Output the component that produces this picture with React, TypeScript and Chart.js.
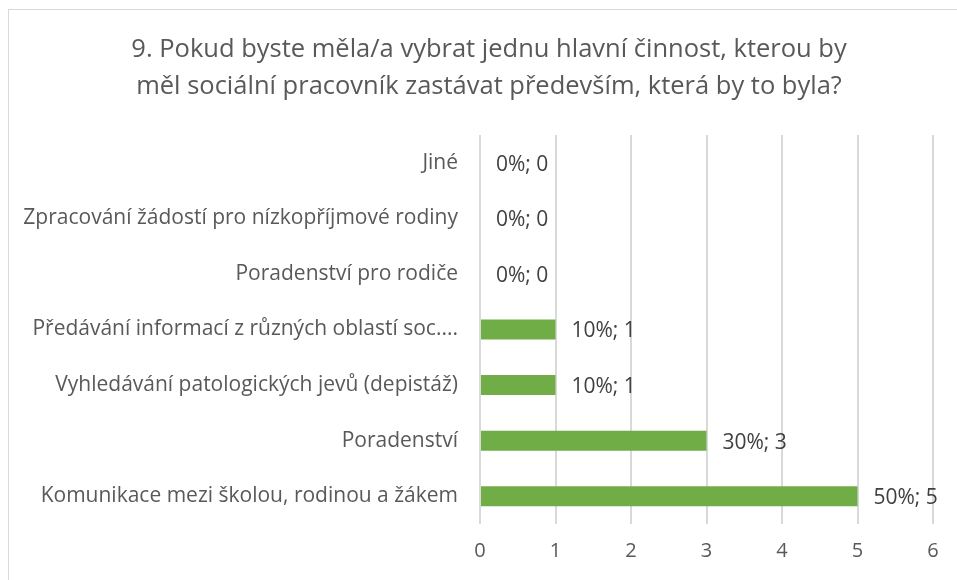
import React, { useEffect, useRef } from "react";
import { Chart, registerables } from "chart.js";

Chart.register(...registerables);

const titleLines = [
  "9. Pokud byste měla/a vybrat jednu hlavní činnost, kterou by",
  "měl sociální pracovník zastávat především, která by to byla?",
];
const categories = [
  "Jiné",
  "Zpracování žádostí pro nízkopříjmové rodiny",
  "Poradenství pro rodiče",
  "Předávání informací z různých oblastí soc....",
  "Vyhledávání patologických jevů (depistáž)",
  "Poradenství",
  "Komunikace mezi školou, rodinou a žákem",
];
const values = [0, 0, 0, 1, 1, 3, 5];
const percents = ["0%", "0%", "0%", "10%", "10%", "30%", "50%"];
const xTicks = [0, 1, 2, 3, 4, 5, 6];

const FONT = "'Open Sans', sans-serif";

const titlePlugin = {
  id: "customTitle",
  afterDraw(chart: any) {
    const ctx = chart.ctx;
    ctx.save();
    ctx.font = `25.5px ${FONT}`;
    ctx.fillStyle = "#595959";
    ctx.textAlign = "center";
    ctx.textBaseline = "middle";
    titleLines.forEach((line, i) => {
      ctx.fillText(line, 489, 50 + i * 37);
    });
    ctx.restore();
  },
};

const labelPlugin = {
  id: "barLabels",
  afterDatasetsDraw(chart: any) {
    const ctx = chart.ctx;
    const meta = chart.getDatasetMeta(0);
    ctx.save();
    ctx.font = `21px ${FONT}`;
    ctx.fillStyle = "#404040";
    ctx.textAlign = "left";
    ctx.textBaseline = "middle";
    meta.data.forEach((bar: any, i: number) => {
      ctx.fillText(`${percents[i]}; ${values[i]}`, bar.x + 16, bar.y + 2);
    });
    ctx.restore();
  },
};

export default function App() {
  const ref = useRef<HTMLCanvasElement>(null);
  useEffect(() => {
    const chart = new Chart(ref.current!, {
      type: "bar",
      data: {
        labels: categories,
        datasets: [
          {
            data: values,
            backgroundColor: "#70AD47",
            barPercentage: 0.36,
            categoryPercentage: 1,
          },
        ],
      },
      options: {
        indexAxis: "y",
        animation: false,
        responsive: false,
        maintainAspectRatio: false,
        layout: { padding: { left: 0, right: 24, top: 135, bottom: 0 } },
        plugins: {
          legend: { display: false },
          tooltip: { enabled: false },
          title: { display: false },
        },
        scales: {
          x: {
            min: 0,
            max: 6,
            afterBuildTicks(scale: any) {
              scale.ticks = xTicks.map((v) => ({ value: v }));
            },
            afterFit(scale: any) {
              scale.height = 56;
            },
            grid: { color: "#d9d9d9", lineWidth: 2, drawTicks: false },
            border: { display: false },
            ticks: {
              color: "#595959",
              font: { family: FONT, size: 20 },
              padding: 15,
            },
          },
          y: {
            afterFit(scale: any) {
              scale.width = 480;
            },
            grid: { display: false, drawTicks: false },
            border: { display: false },
            ticks: {
              color: "#595959",
              font: { family: FONT, size: 21 },
              padding: 22,
            },
          },
        },
      },
      plugins: [labelPlugin, titlePlugin],
    });
    return () => chart.destroy();
  }, []);
  return (
    <div style={{ position: "fixed", left: 0, top: 0, width: 957, height: 580, background: "#fff" }}>
      <div
        style={{
          position: "absolute",
          left: 8,
          top: 9,
          width: 960,
          height: 580,
          borderTop: "1px solid #d9d9d9",
          borderLeft: "1px solid #d9d9d9",
        }}
      />
      <canvas ref={ref} width={957} height={580} style={{ position: "absolute", left: 0, top: 0 }} />
    </div>
  );
}
